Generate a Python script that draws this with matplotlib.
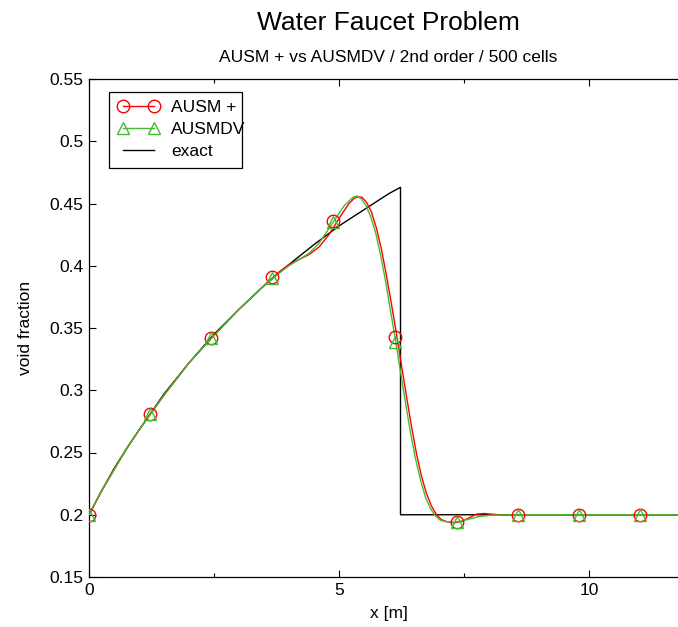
import matplotlib
matplotlib.use("Agg")
import matplotlib.pyplot as plt
from matplotlib.lines import Line2D
from matplotlib.patches import Rectangle
from matplotlib.ticker import MultipleLocator, NullFormatter

plt.rcParams["font.family"] = ["Liberation Sans", "DejaVu Sans"]

# exact solution
exact_x = [0.0, 0.25, 0.5, 0.75, 1.0, 1.5, 2.0, 2.5, 3.0, 3.5, 4.0, 4.5, 5.0, 5.5, 6.0, 6.23,
           6.23, 12.0]
exact_y = [0.200, 0.219, 0.237, 0.253, 0.268, 0.297, 0.322, 0.345, 0.365, 0.384, 0.401, 0.417,
           0.432, 0.445, 0.458, 0.463, 0.200, 0.200]

# AUSM + (red line)
ausm_x = [0.0, 0.25, 0.5, 0.75, 1.0, 1.5, 2.0, 2.5, 3.0, 3.5, 3.8, 4.0, 4.2, 4.4, 4.6, 4.8,
          5.0, 5.1, 5.2, 5.3, 5.38, 5.46, 5.55, 5.65, 5.75, 5.85, 5.95, 6.05, 6.15, 6.25,
          6.35, 6.45, 6.55, 6.65, 6.75, 6.85, 6.95, 7.05, 7.15, 7.3, 7.45, 7.6, 7.75, 7.9,
          8.1, 8.3, 8.6, 12.0]
ausm_y = [0.200, 0.219, 0.236, 0.253, 0.268, 0.296, 0.322, 0.344, 0.365, 0.384, 0.395, 0.401,
          0.405, 0.409, 0.415, 0.425, 0.438, 0.444, 0.450, 0.454, 0.4555, 0.455, 0.451, 0.443,
          0.430, 0.413, 0.392, 0.369, 0.345, 0.320, 0.295, 0.271, 0.249, 0.231, 0.217, 0.207,
          0.200, 0.196, 0.1945, 0.1935, 0.1945, 0.1975, 0.2005, 0.201, 0.2003, 0.1997, 0.200,
          0.200]

# AUSMDV (green line)
dv_x = [0.0, 0.25, 0.5, 0.75, 1.0, 1.5, 2.0, 2.5, 3.0, 3.5, 3.8, 4.0, 4.2, 4.4, 4.6, 4.8,
        5.0, 5.1, 5.2, 5.28, 5.36, 5.44, 5.53, 5.63, 5.73, 5.83, 5.93, 6.03, 6.13, 6.23,
        6.33, 6.43, 6.53, 6.63, 6.73, 6.83, 6.93, 7.03, 7.13, 7.3, 7.45, 7.6, 7.8, 8.0,
        8.4, 12.0]
dv_y = [0.200, 0.219, 0.236, 0.253, 0.268, 0.296, 0.322, 0.344, 0.365, 0.384, 0.394, 0.400,
        0.405, 0.410, 0.418, 0.430, 0.442, 0.448, 0.452, 0.455, 0.456, 0.454, 0.449, 0.440,
        0.427, 0.409, 0.388, 0.364, 0.340, 0.315, 0.290, 0.266, 0.245, 0.228, 0.214, 0.205,
        0.199, 0.1955, 0.1945, 0.194, 0.195, 0.1965, 0.1985, 0.1995, 0.200, 0.200]

# marker points
mark_x = [0.0, 1.22, 2.44, 3.66, 4.88, 6.12, 7.36, 8.58, 9.8, 11.02]
ausm_mark_y = [0.200, 0.281, 0.342, 0.391, 0.436, 0.343, 0.1945, 0.200, 0.200, 0.200]
dv_mark_y = [0.200, 0.281, 0.342, 0.390, 0.435, 0.339, 0.1945, 0.200, 0.200, 0.200]

red = "#ff0000"
green = "#44bb33"

fig = plt.figure(figsize=(6.78, 6.27), dpi=100)
ax = fig.add_axes([89 / 678, (627 - 577) / 627, 600 / 678, 498 / 627])

ax.plot(exact_x, exact_y, color="black", linewidth=1.0, zorder=2)
ax.plot(ausm_x, ausm_y, color=red, linewidth=1.0, zorder=3)
ax.plot(dv_x, dv_y, color=green, linewidth=1.0, zorder=3)
ax.plot(mark_x, ausm_mark_y, linestyle="none", marker="o", markersize=9,
        markerfacecolor="none", markeredgecolor=red, markeredgewidth=1.0, zorder=4)
ax.plot(mark_x, dv_mark_y, linestyle="none", marker="^", markersize=9,
        markerfacecolor="none", markeredgecolor=green, markeredgewidth=1.0, zorder=4)

ax.set_xlim(0, 12)
ax.set_ylim(0.15, 0.55)
ax.xaxis.set_major_locator(MultipleLocator(5))
ax.xaxis.set_minor_locator(MultipleLocator(2.5))
ax.set_yticks([0.15, 0.2, 0.25, 0.3, 0.35, 0.4, 0.45, 0.5, 0.55])
ax.set_yticklabels(["0.15", "0.2", "0.25", "0.3", "0.35", "0.4", "0.45", "0.5", "0.55"])
ax.tick_params(which="both", direction="in", top=True, right=False, labelsize=12.5,
               width=0.8, pad=4)
ax.tick_params(which="major", length=5)
ax.tick_params(which="minor", length=3)
ax.xaxis.set_minor_formatter(NullFormatter())
for s in ax.spines.values():
    s.set_linewidth(0.9)
ax.spines["right"].set_visible(False)

ax.set_xlabel("x [m]", fontsize=12.5, labelpad=6)
ax.set_ylabel("void fraction", fontsize=12.5, labelpad=12)

handles = [
    Line2D([], [], color=red, linewidth=1.0, marker="o", markersize=9,
           markerfacecolor="none", markeredgecolor=red),
    Line2D([], [], color=green, linewidth=1.0, marker="^", markersize=9,
           markerfacecolor="none", markeredgecolor=green),
    Line2D([], [], color="black", linewidth=1.0),
]
# legend box drawn by hand: the text runs up to the right border as in the original
ax.add_patch(Rectangle((20 / 600, (577 - 168) / 498), 133 / 600, 76 / 498,
                       transform=ax.transAxes, facecolor="white", edgecolor="black",
                       linewidth=0.9, zorder=6))
leg = ax.legend(handles, ["AUSM +", "AUSMDV", "exact"], loc="upper left",
                bbox_to_anchor=(20 / 600, (577 - 92) / 498), borderaxespad=0,
                numpoints=2, fontsize=12.5, handlelength=2.4, handletextpad=0.7,
                labelspacing=0.38, borderpad=0.48, frameon=False)
leg.set_zorder(7)

fig.text(388 / 678, 1 - 23 / 627, "Water Faucet Problem", fontsize=19, ha="center", va="center")
fig.text(388 / 678, 1 - 58 / 627, "AUSM + vs AUSMDV / 2nd order / 500 cells", fontsize=12.5,
         ha="center", va="center")

fig.savefig("out.png", dpi=100)
